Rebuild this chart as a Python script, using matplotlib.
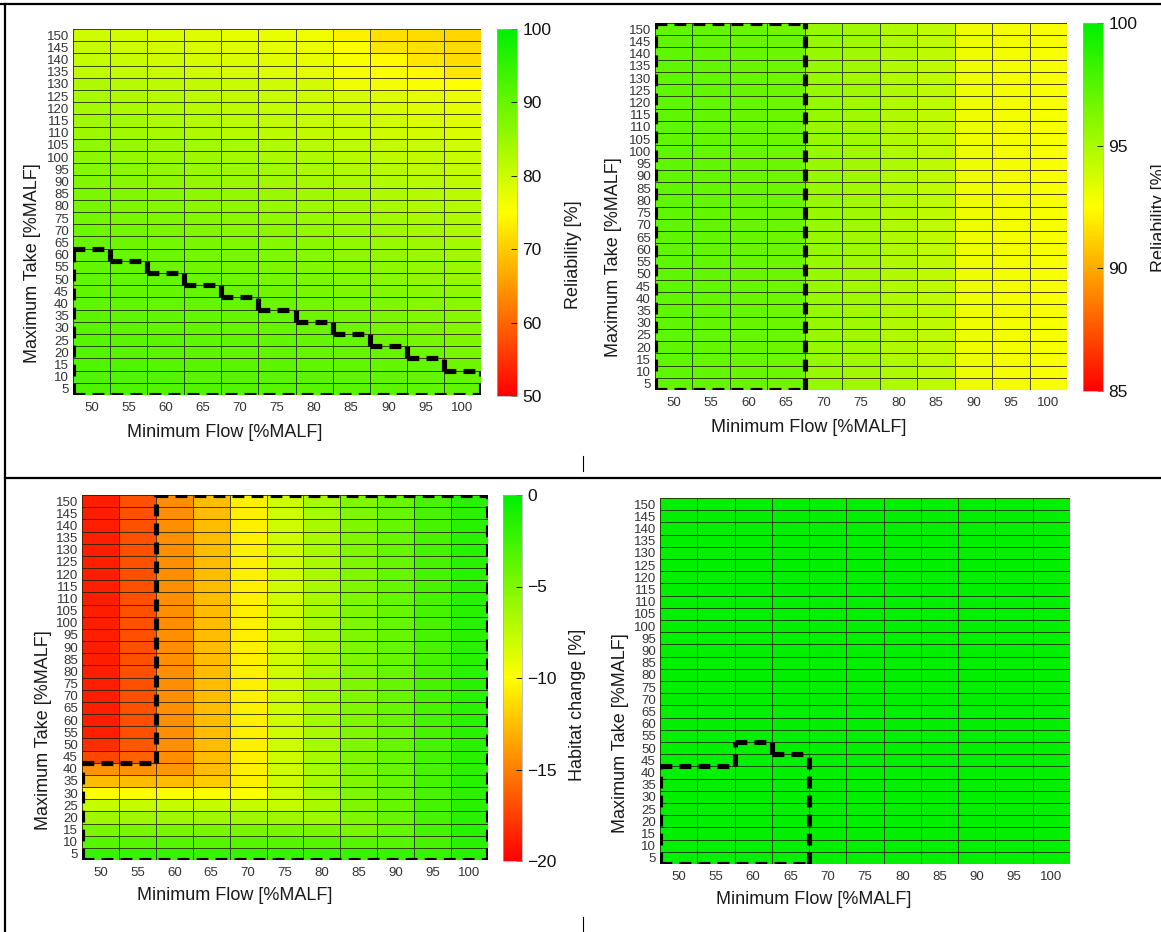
import numpy as np
import matplotlib
matplotlib.use("Agg")
import matplotlib.pyplot as plt
from matplotlib.colors import LinearSegmentedColormap
from matplotlib.lines import Line2D

plt.rcParams['font.family'] = ['Liberation Sans', 'DejaVu Sans']

# axes values
min_flow = [50, 55, 60, 65, 70, 75, 80, 85, 90, 95, 100]
max_take = list(range(5, 155, 5))

# --- panel 1: reliability [%], one list per minimum-flow column (take 5 -> 150)
rel1_f50 = [92.5, 92.3, 92.1, 91.9, 91.6, 91.3, 91.0, 90.8, 90.6, 90.5, 90.3, 90.1,
            89.8, 89.3, 88.8, 88.3, 87.8, 87.3, 86.8, 86.3, 85.8, 84.6, 84.2, 83.8,
            83.3, 82.8, 81.2, 80.8, 80.3, 79.8]
rel1_f55 = [92.3, 92.1, 91.8, 91.5, 91.2, 90.9, 90.7, 90.5, 90.3, 90.2, 90.1,
            89.7, 89.2, 88.7, 88.2, 87.7, 87.2, 86.7, 86.2, 85.7, 85.2, 84.0, 83.6,
            83.2, 82.7, 82.2, 80.7, 80.2, 79.8, 79.3]
rel1_f60 = [92.1, 91.8, 91.5, 91.2, 90.9, 90.7, 90.5, 90.3, 90.2, 90.1,
            89.6, 89.1, 88.6, 88.1, 87.6, 87.1, 86.6, 86.1, 85.6, 85.1, 84.6, 83.4,
            83.0, 82.6, 82.1, 81.6, 80.1, 79.6, 79.2, 78.7]
rel1_f65 = [91.9, 91.6, 91.3, 91.0, 90.7, 90.5, 90.3, 90.2, 90.1,
            89.6, 89.0, 88.5, 88.0, 87.5, 87.0, 86.5, 86.0, 85.5, 85.0, 84.5, 84.0,
            82.8, 82.4, 82.0, 81.5, 81.0, 79.5, 79.0, 78.6, 78.1]
rel1_f70 = [91.7, 91.4, 91.1, 90.8, 90.5, 90.3, 90.2, 90.1,
            89.5, 89.0, 88.4, 87.9, 87.4, 86.9, 86.4, 85.9, 85.4, 84.9, 84.4, 83.9,
            83.4, 82.2, 81.8, 81.4, 80.9, 80.4, 78.9, 78.4, 78.0, 77.5]
rel1_f75 = [91.5, 91.2, 90.9, 90.6, 90.4, 90.2, 90.1,
            89.5, 88.9, 88.3, 87.8, 87.3, 86.8, 86.3, 85.8, 85.3, 84.8, 84.3, 83.8,
            83.3, 82.8, 81.6, 81.2, 80.8, 80.3, 79.8, 78.3, 77.8, 77.4, 77.0]
rel1_f80 = [91.3, 91.0, 90.6, 90.4, 90.2, 90.1,
            89.4, 88.8, 88.2, 87.7, 87.2, 86.7, 86.2, 85.7, 85.2, 84.7, 84.2, 83.7,
            83.2, 82.7, 82.2, 81.0, 80.6, 80.2, 79.7, 79.2, 77.7, 77.2, 76.8, 76.4]
rel1_f85 = [91.1, 90.7, 90.4, 90.2, 90.1,
            89.4, 88.7, 88.1, 87.6, 87.1, 86.6, 86.1, 85.6, 85.1, 84.6, 84.1, 83.6,
            83.1, 82.6, 82.1, 81.6, 80.4, 80.0, 79.5, 79.0, 76.5, 76.0, 75.5, 75.0, 73.5]
rel1_f90 = [90.9, 90.5, 90.2, 90.1,
            89.3, 88.6, 88.0, 87.5, 87.0, 86.5, 86.0, 85.5, 85.0, 84.5, 84.0, 83.5,
            83.0, 82.5, 82.0, 81.5, 81.0, 79.8, 79.3, 78.8, 78.3, 76.0, 75.5, 74.5,
            72.5, 72.0]
rel1_f95 = [90.7, 90.3, 90.1,
            89.3, 88.5, 87.9, 87.4, 86.9, 86.4, 85.9, 85.4, 84.9, 84.4, 83.9, 83.4,
            82.9, 82.4, 81.9, 81.4, 80.9, 80.4, 79.2, 78.7, 78.2, 77.7, 75.5, 74.5,
            72.5, 72.0, 71.5]
rel1_f100 = [90.5, 90.1,
             89.2, 88.4, 87.8, 87.3, 86.8, 86.3, 85.8, 85.3, 84.8, 84.3, 83.8, 83.3,
             82.8, 82.3, 81.8, 81.3, 80.8, 80.3, 79.8, 78.6, 78.1, 77.6, 77.1, 75.0,
             72.5, 71.5, 71.5, 71.0]

# --- panel 2: reliability [%], same for every maximum take
rel2_by_flow = [97.2, 97.1, 96.9, 96.8, 95.6, 95.3, 94.8, 94.4, 93.0, 92.8, 92.7]

# --- panel 3: habitat change [%], rows take 5 -> 50, then rows 55 -> 150 alike
hab3_low = [
    [-2.2, -2.2, -2.2, -2.2, -2.2, -2.2, -2.2, -2.2, -2.2, -2.2, -1.6],
    [-3.4, -3.4, -3.4, -3.4, -3.4, -3.4, -3.4, -3.4, -3.4, -2.8, -1.6],
    [-4.7, -4.7, -4.7, -4.7, -4.7, -4.7, -4.7, -4.7, -4.0, -2.8, -1.6],
    [-6.2, -6.2, -6.2, -6.2, -6.2, -6.2, -6.2, -5.0, -4.0, -2.8, -1.6],
    [-7.8, -7.8, -7.8, -7.8, -7.8, -7.8, -6.6, -5.0, -4.0, -2.8, -1.6],
    [-10.0, -10.0, -10.0, -10.0, -10.0, -8.2, -6.6, -5.0, -4.0, -2.8, -1.6],
    [-12.6, -12.6, -12.6, -12.0, -10.6, -8.2, -6.6, -5.0, -4.0, -2.8, -1.6],
    [-14.2, -14.2, -14.0, -12.6, -10.6, -8.2, -6.6, -5.0, -4.0, -2.8, -1.6],
    [-17.2, -16.2, -14.4, -12.6, -10.6, -8.2, -6.6, -5.0, -4.0, -2.8, -1.6],
    [-18.2, -16.6, -14.4, -12.6, -10.6, -8.2, -6.6, -5.0, -4.0, -2.8, -1.6],
]
hab3_high = [-18.8, -16.8, -14.4, -12.6, -10.6, -8.2, -6.6, -5.0, -4.0, -2.8, -1.6]

# --- panel 4: habitat change [%], no loss anywhere
hab4_by_flow = [0, 0, 0, 0, 0, 0, 0, 0, 0, 0, 0]

# acceptable region (dashed outline): highest take allowed per minimum flow
p1_limit = [60, 55, 50, 45, 40, 35, 30, 25, 20, 15, 10]
p2_limit = [150, 150, 150, 150, 0, 0, 0, 0, 0, 0, 0]
p3_limit = [40, 40, 150, 150, 150, 150, 150, 150, 150, 150, 150]
p4_limit = [40, 40, 50, 45, 0, 0, 0, 0, 0, 0, 0]

rel1 = np.column_stack([rel1_f50, rel1_f55, rel1_f60, rel1_f65, rel1_f70, rel1_f75,
                        rel1_f80, rel1_f85, rel1_f90, rel1_f95, rel1_f100])
rel2 = np.tile(rel2_by_flow, (len(max_take), 1))
hab3 = np.vstack([hab3_low, np.tile(hab3_high, (len(max_take) - len(hab3_low), 1))])
hab4 = np.tile(hab4_by_flow, (len(max_take), 1))

cmap = LinearSegmentedColormap.from_list('ryg', ['#ff0000', '#ffff00', '#00f000'])

W, H = 1161, 932
fig = plt.figure(figsize=(W / 100, H / 100), dpi=100)


def box(l, t, r, b):
    return [l / W, 1 - b / H, (r - l) / W, (b - t) / H]


def label(x, y, s, rot=0):
    fig.text(x / W, 1 - y / H, s, ha='center', va='center', rotation=rot,
             fontsize=13, color='#1a1a1a')


def merge(segs):
    segs = sorted(segs)
    out = [list(segs[0])]
    for a, b in segs[1:]:
        if abs(a - out[-1][1]) < 1e-9:
            out[-1][1] = b
        else:
            out.append([a, b])
    return out


def outline(ax, limit):
    # dashed border round the cells whose take is within the limit
    mask = np.array([[t <= lim for lim in limit] for t in max_take])
    xe = np.arange(47.5, 103, 5)
    ye = np.arange(2.5, 153, 5)
    nr, nc = mask.shape
    hseg, vseg = {}, {}
    for r in range(nr):
        for c in range(nc):
            if not mask[r, c]:
                continue
            if r == 0 or not mask[r - 1, c]:
                hseg.setdefault(ye[r], []).append((xe[c], xe[c + 1]))
            if r == nr - 1 or not mask[r + 1, c]:
                hseg.setdefault(ye[r + 1], []).append((xe[c], xe[c + 1]))
            if c == 0 or not mask[r, c - 1]:
                vseg.setdefault(xe[c], []).append((ye[r], ye[r + 1]))
            if c == nc - 1 or not mask[r, c + 1]:
                vseg.setdefault(xe[c + 1], []).append((ye[r], ye[r + 1]))
    kw = dict(color='black', lw=3.7, linestyle=(0, (2.3, 1.4)),
              dash_capstyle='butt', zorder=5)
    for y, segs in hseg.items():
        for a, b in merge(segs):
            ax.plot([a, b], [y, y], **kw)
    for x, segs in vseg.items():
        for a, b in merge(segs):
            ax.plot([x, x], [a, b], **kw)


def heat(rect, data, vmin, vmax, limit):
    ax = fig.add_axes(box(*rect))
    xe = np.arange(47.5, 103, 5)
    ye = np.arange(2.5, 153, 5)
    m = ax.pcolormesh(xe, ye, data, cmap=cmap, vmin=vmin, vmax=vmax,
                      edgecolors=(0.12, 0.12, 0.0, 0.8), linewidth=0.7)
    ax.set_xlim(47.5, 102.5)
    ax.set_ylim(2.5, 152.5)
    ax.set_xticks(min_flow)
    ax.set_yticks(max_take)
    ax.tick_params(length=0, labelsize=9.5, labelcolor='#333333')
    ax.tick_params(axis='x', pad=5)
    ax.tick_params(axis='y', pad=3)
    for s in ax.spines.values():
        s.set_visible(False)
    outline(ax, limit)
    return m


def cbar(m, rect, ticks):
    cax = fig.add_axes(box(*rect))
    cb = fig.colorbar(m, cax=cax, ticks=ticks)
    cb.outline.set_edgecolor('#aaaaaa')
    cb.outline.set_linewidth(0.5)
    cax.tick_params(direction='in', length=4, width=0.6, labelsize=12.5, pad=4,
                    labelcolor='#111111')


m1 = heat((73, 29, 481, 395), rel1, 50, 100, p1_limit)
cbar(m1, (497, 29, 517, 396), [50, 60, 70, 80, 90, 100])
label(33, 263, 'Maximum Take [%MALF]', 90)
label(225, 432, 'Minimum Flow [%MALF]')
label(574, 255, 'Reliability [%]', 90)

m2 = heat((655, 23, 1067, 390), rel2, 85, 100, p2_limit)
cbar(m2, (1083, 23, 1103, 391), [85, 90, 95, 100])
label(613, 257, 'Maximum Take [%MALF]', 90)
label(809, 427, 'Minimum Flow [%MALF]')
label(1159, 218, 'Reliability [%]', 90)

m3 = heat((82, 495, 488, 860), hab3, -20, 0, p3_limit)
cbar(m3, (503, 495, 522, 861), [-20, -15, -10, -5, 0])
label(44, 730, 'Maximum Take [%MALF]', 90)
label(235, 895, 'Minimum Flow [%MALF]')
label(577, 705, 'Habitat change [%]', 90)

heat((660, 498, 1070, 864), hab4, -20, 0, p4_limit)
label(621, 733, 'Maximum Take [%MALF]', 90)
label(814, 900, 'Minimum Flow [%MALF]')

# table frame around the four figures
for (x0, y0, x1, y1, lw) in [(0, 4, W, 4, 1.6), (5, 4, 5, H, 1.6), (5, 478.5, W, 478.5, 1.6),
                             (583, 456, 583, 471, 0.8), (583, 917, 583, H, 0.8)]:
    fig.add_artist(Line2D([x0 / W, x1 / W], [1 - y0 / H, 1 - y1 / H],
                          transform=fig.transFigure, color='black', lw=lw))

fig.savefig('out.png', dpi=100)
